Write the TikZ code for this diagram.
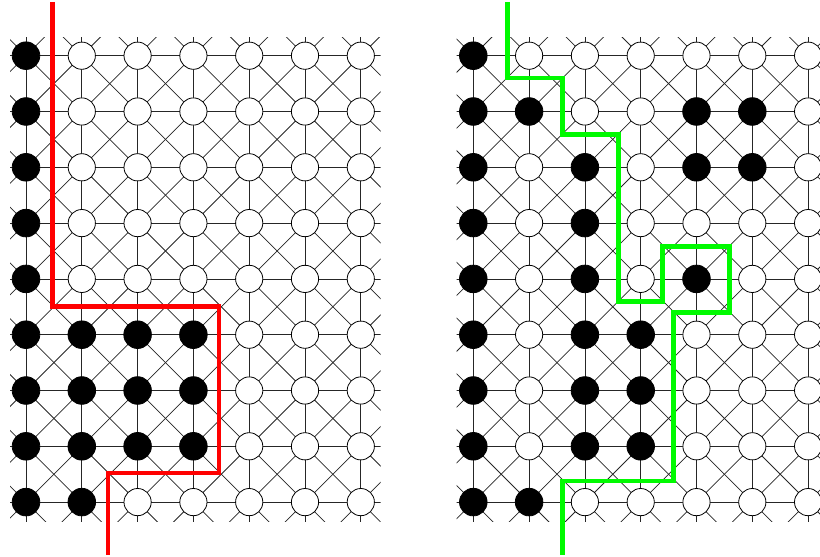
\documentclass[tikz,border=0pt]{standalone}
\definecolor{pathred}{RGB}{255,0,0}
\definecolor{pathgreen}{RGB}{0,250,0}
\tikzset{
  gridline/.style={line width=0.75bp, draw=black!85},
  stone0/.style={circle, draw=black, line width=0.8bp, fill=white, minimum size=27.2bp, inner sep=0pt},
  stone1/.style={circle, draw=black, line width=0.8bp, fill=black, minimum size=27.6bp, inner sep=0pt},
  cutline/.style={line width=4.6bp, line join=miter},
}
% #1 prefix, #2 x offset, #3 clip left, #4 clip right, #5 pattern
\newcommand\drawlattice[5]{%
  \foreach \i in {-1,...,7}{\foreach \j in {-1,...,9}{%
    \coordinate (#1-\i-\j) at ({#2+26+55.8*\i},{55.7+55.8*\j});}}
  \begin{scope}
    \clip (#3,37.5) rectangle (#4,521.5);
    \foreach \j in {0,...,8}{\draw[gridline] (#1--1-\j) -- (#1-7-\j);}
    \foreach \i in {0,...,6}{\draw[gridline] (#1-\i--1) -- (#1-\i-9);}
    \foreach \i [evaluate=\i as \ii using int(\i+1)] in {-1,...,6}{%
      \foreach \j [evaluate=\j as \jj using int(\j+1)] in {-1,...,8}{%
        \draw[gridline] (#1-\i-\j) -- (#1-\ii-\jj);
        \draw[gridline] (#1-\ii-\j) -- (#1-\i-\jj);}}
  \end{scope}
  \foreach \j/\row in {#5}{%
    \foreach \c [count=\i from 0] in \row {%
      \node[stone\c] (#1-n-\i-\j) at (#1-\i-\j) {};}}
}
\begin{document}
\begin{tikzpicture}[x=1bp,y=-1bp]
\useasboundingbox (0,0) rectangle (820,557);
\drawlattice{L}{0}{10}{380.5}{%
  0/{1,0,0,0,0,0,0},1/{1,0,0,0,0,0,0},2/{1,0,0,0,0,0,0},
  3/{1,0,0,0,0,0,0},4/{1,0,0,0,0,0,0},5/{1,1,1,1,0,0,0},
  6/{1,1,1,1,0,0,0},7/{1,1,1,1,0,0,0},8/{1,1,0,0,0,0,0}}
\drawlattice{R}{447.3}{456.5}{820}{%
  0/{1,0,0,0,0,0,0},1/{1,1,0,0,1,1,0},2/{1,0,1,0,1,1,0},
  3/{1,0,1,0,0,0,0},4/{1,0,1,0,1,0,0},5/{1,0,1,1,0,0,0},
  6/{1,0,1,1,0,0,0},7/{1,0,1,1,0,0,0},8/{1,1,0,0,0,0,0}}
\draw[cutline, pathred] (52.5,2) |- (219,306.5) |- (108,473) -- (108,555);
\draw[cutline, pathgreen] (507.3,2) |- (562.7,78) |- (618.7,134.3)
  |- (662.3,301.7) |- (729.3,246.7) |- (673.7,312.7) |- (562.7,481) -- (562.7,555);
\end{tikzpicture}
\end{document}
